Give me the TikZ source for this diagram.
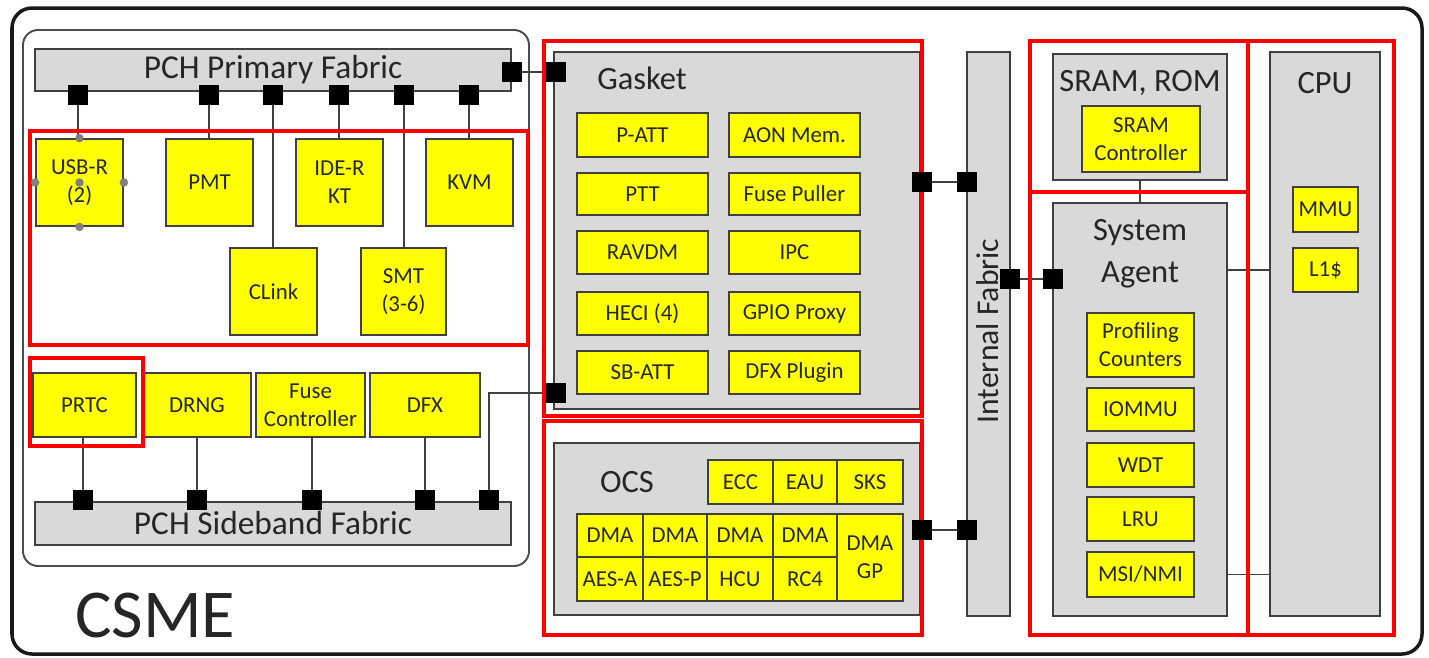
\documentclass[tikz,border=0pt]{standalone}
\usepackage{fontspec}
\setmainfont{Carlito}
\usetikzlibrary{fit, positioning}
\definecolor{blkyellow}{HTML}{FFFF00}
\definecolor{unitgray}{HTML}{D9D9D9}
\definecolor{boxline}{HTML}{404040}
\definecolor{hlred}{HTML}{FF0000}
\definecolor{txtdark}{HTML}{262626}
\tikzset{
  % testo dei blocchi
  blktext/.style={align=center, font=\fontsize{13}{16}\selectfont, text=txtdark, inner sep=0pt},
  % blocco IP giallo
  blk/.style={draw=boxline, fill=blkyellow, line width=1pt, inner sep=0pt,
    label={[blktext]center:{#1}}},
  % contenitore grigio
  unit/.style={draw=boxline, fill=unitgray, line width=1.4pt, inner sep=0pt},
  % barra di fabric
  fabric/.style={unit, label={[font=\fontsize{19}{21}\selectfont, text=txtdark, inner sep=0pt]center:{#1}}},
  % titoli dei contenitori
  hdr/.style={font=\fontsize{18.5}{23.8}\selectfont, text=txtdark, align=center,
    inner sep=0pt},
  % riquadro rosso
  redframe/.style={draw=hlred, line width=2.4pt},
  % porta di connessione
  port/.style={minimum size=0.4cm, inner sep=0pt},
  % collegamento
  wire/.style={draw=boxline, line width=0.8pt},
  % maniglie di selezione
  handle/.style={circle, fill=black!50, minimum size=0.17cm, inner sep=0pt},
}

\begin{document}
\begin{tikzpicture}[x=0.02cm, y=-0.02cm]
  \useasboundingbox (0,0) rectangle (1429,657);
  \draw[line width=2pt, draw=black!90, rounded corners=0.4cm] (12,8) rectangle (1422,654);
  \draw[line width=1.1pt, draw=black!70, rounded corners=0.3cm] (23,30) rectangle (529,566);
  \node[font=\fontsize{39}{40}\selectfont, text=txtdark, anchor=west, inner sep=0pt] (csme) at (75,615) {CSME};

  \node[fabric={PCH Primary Fabric}, fit={(35,49) (511,91)}] (pcf) {};
  \node[fabric={PCH Sideband Fabric}, fit={(35,502) (511,545)}] (psf) {};

  \node[blk={USB-R\\(2)}, fit={(36,139) (123,226)}] (usb) {};
  \node[blk=PMT, fit={(166,139) (253,226)}] (pmt) {};
  \node[blk={IDE-R\\KT}, fit={(296,139) (383,226)}] (ider) {};
  \node[blk=KVM, fit={(426,139) (513,226)}] (kvm) {};
  \node[blk=CLink, fit={(230,248) (317,335)}] (clink) {};
  \node[blk={SMT\\(3-6)}, fit={(361,248) (446,335)}] (smt) {};

  \node[blk=PRTC, fit={(33,373) (136,437)}] (prtc) {};
  \node[blk=DRNG, fit={(143,373) (251,437)}] (drng) {};
  \node[blk={Fuse\\Controller}, fit={(256,373) (365,437)}] (fuse) {};
  \node[blk=DFX, fit={(370,373) (480,437)}] (dfx) {};

  \node[unit, fit={(554,52) (920,409)}] (gasket) {};
  \node[hdr, anchor=west] (gaskettitle) at (597,78) {Gasket};
  \foreach \r/\ya/\yb/\ta/\tb in {1/113/157/P-ATT/AON Mem., 2/173/215/PTT/Fuse Puller,
      3/231/274/RAVDM/IPC, 4/292/335/HECI (4)/GPIO Proxy, 5/351/394/SB-ATT/DFX Plugin} {
    \node[blk=\ta, fit={(577,\ya) (708,\yb)}] (gl\r) {};
    \node[blk=\tb, fit={(729,\ya) (860,\yb)}] (gr\r) {};
  }

  \node[unit, fit={(554,443) (920,615)}] (ocs) {};
  \node[hdr] (ocstitle) at (627,482) {OCS};
  \node[blk=ECC, fit={(708,460) (773,504)}] (ecc) {};
  \node[blk=EAU, fit={(773,460) (837,504)}] (eau) {};
  \node[blk=SKS, fit={(837,460) (903,504)}] (sks) {};
  \foreach \c/\xa/\xb/\tb in {1/577/643/AES-A, 2/643/707/AES-P, 3/707/773/HCU, 4/773/837/RC4} {
    \node[blk=DMA, fit={(\xa,514) (\xb,557)}] (dma\c) {};
    \node[blk=\tb, fit={(\xa,557) (\xb,601)}] (alg\c) {};
  }
  \node[blk={DMA\\GP}, fit={(837,514) (903,601)}] (dmagp) {};

  \node[unit, fit={(967,52) (1010,616)}] (infab) {};
  \node[hdr, rotate=90, font=\fontsize{18}{20}\selectfont] (infabtitle) at (988,331) {Internal Fabric};

  \node[unit, fit={(1053,54) (1227,180)}] (sram) {};
  \node[hdr] (sramtitle) at (1140,83) {SRAM, ROM};
  \node[blk={SRAM\\Controller}, fit={(1082,106) (1200,172)}] (sramctl) {};

  \node[unit, fit={(1053,203) (1227,616)}] (sa) {};
  \node[hdr] (satitle) at (1140,254) {System\\Agent};
  \node[blk={Profiling\\Counters}, fit={(1087,313) (1194,377)}] (prof) {};
  \node[blk=IOMMU, fit={(1087,388) (1194,431)}] (iommu) {};
  \node[blk=WDT, fit={(1087,443) (1194,487)}] (wdt) {};
  \node[blk=LRU, fit={(1087,497) (1194,541)}] (lru) {};
  \node[blk=MSI/NMI, fit={(1087,552) (1194,597)}] (msi) {};

  \node[unit, fit={(1270,52) (1380,616)}] (cpu) {};
  \node[hdr] (cputitle) at (1325,83) {CPU};
  \node[blk=MMU, fit={(1293,187) (1358,232)}] (mmu) {};
  \node[blk=L1\$, fit={(1293,248) (1358,292)}] (lone) {};

  \foreach \n/\x in {1/78, 2/209, 3/273, 4/339, 5/404, 6/469} { \node[port] (pp\n) at (\x,95) {}; }
  \foreach \n/\x in {1/83, 2/197, 3/312, 4/425, 5/489} { \node[port] (ps\n) at (\x,500) {}; }
  \node[port] (pr) at (512,72) {};
  \node[port] (gk1) at (556,72) {};
  \node[port] (gk2) at (556,393) {};
  \node[port] (gk3) at (922,182) {};
  \node[port] (if1) at (967,182) {};
  \node[port] (oc1) at (922,530) {};
  \node[port] (if2) at (967,530) {};
  \node[port] (if3) at (1010,279) {};
  \node[port] (sa1) at (1053,279) {};

  \foreach \n/\b in {1/usb, 2/pmt, 3/clink, 4/ider, 5/smt, 6/kvm} { \draw[wire] (pp\n) -- (pp\n |- \b.north); }
  \foreach \n/\b in {1/prtc, 2/drng, 3/fuse, 4/dfx} { \draw[wire] (\b.south -| ps\n) -- (ps\n); }
  \draw[wire] (ps5) |- (gk2);
  \draw[wire] (pr) -- (gk1);
  \draw[wire] (gk3) -- (if1);
  \draw[wire] (oc1) -- (if2);
  \draw[wire] (if3) -- (sa1);
  \draw[wire] (sram.south) -- (sram.south |- sa.north);
  \draw[wire] (sa.east |- lone) -- (cpu.west |- lone);
  \draw[wire] (sa.east |- msi) -- (cpu.west |- msi);

  \draw[redframe] (30,131) rectangle (528,345);
  \draw[redframe] (30,358) rectangle (143,446);
  \draw[redframe] (544,41) rectangle (922,416);
  \draw[redframe] (544,421) rectangle (922,635);
  \draw[redframe] (1030,41) rectangle (1248,192);
  \draw[redframe] (1030,192) rectangle (1248,635);
  \draw[redframe] (1248,41) rectangle (1394,635);

  \foreach \n in {pp1,pp2,pp3,pp4,pp5,pp6,ps1,ps2,ps3,ps4,ps5,pr,gk1,gk2,gk3,if1,oc1,if2,if3,sa1} { \fill (\n.south west) rectangle (\n.north east); }
  \foreach \a in {north, south, west, east, center} { \node[handle] at (usb.\a) {}; }
\end{tikzpicture}
\end{document}
